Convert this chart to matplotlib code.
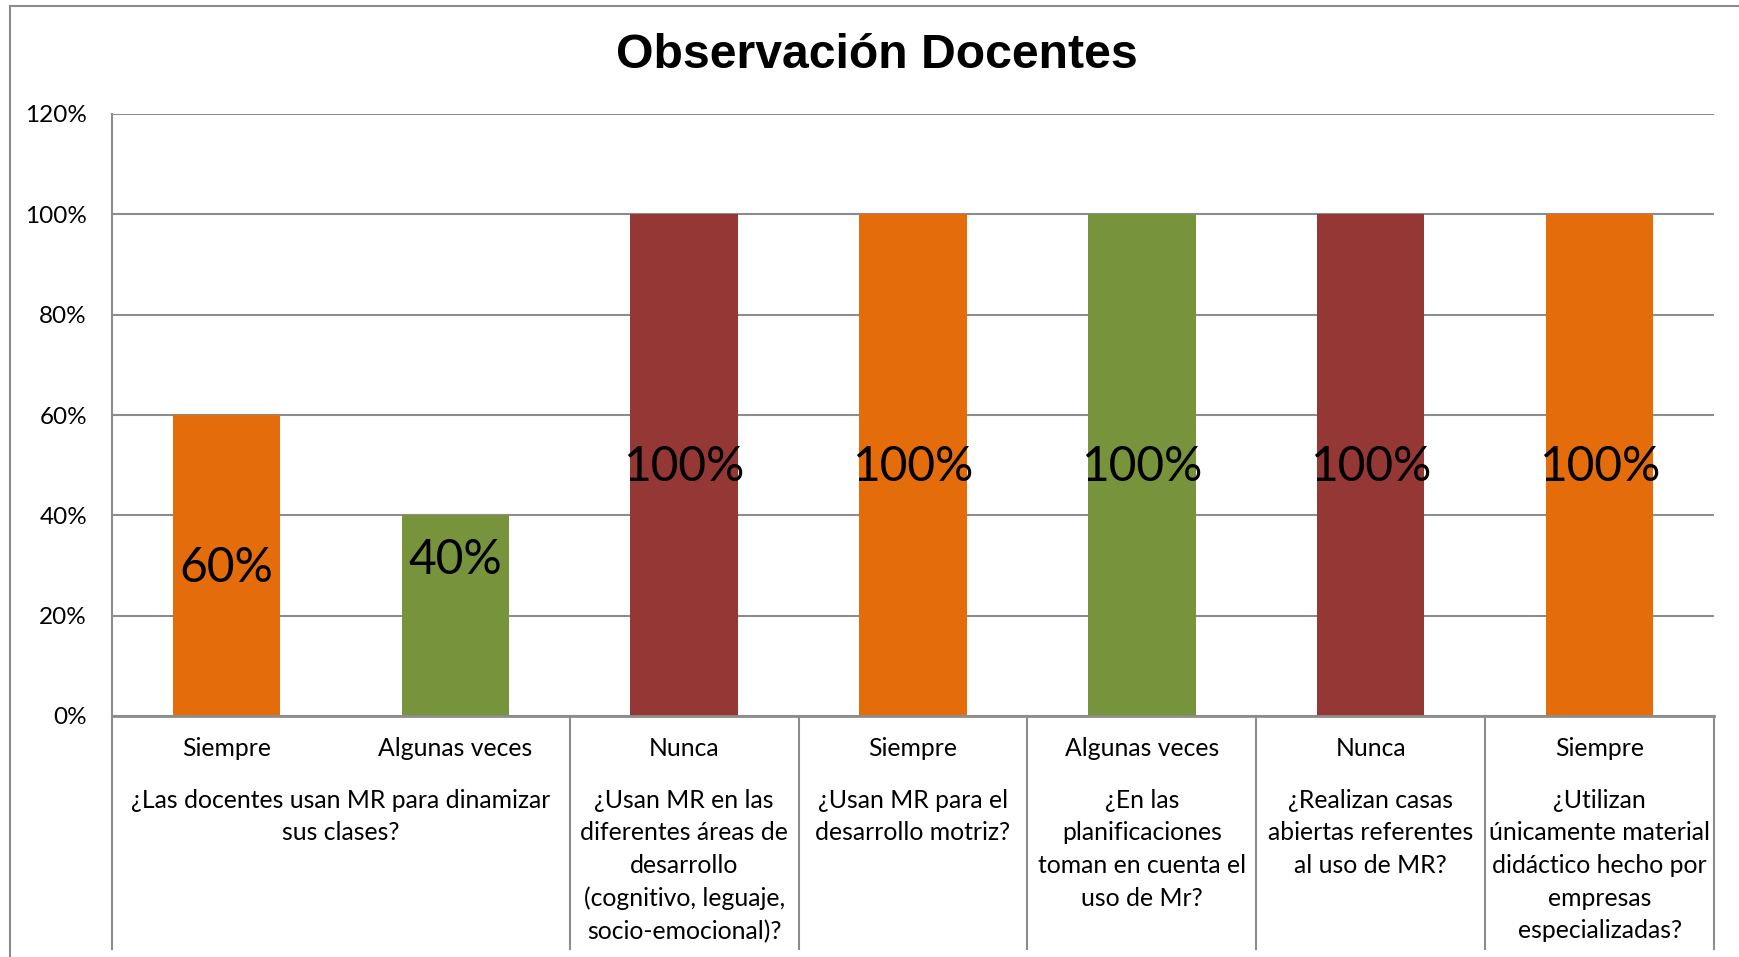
import matplotlib.pyplot as plt
from matplotlib.patches import Rectangle
import matplotlib.transforms as mtransforms

# Data
answers = ['Siempre', 'Algunas veces', 'Nunca', 'Siempre', 'Algunas veces', 'Nunca', 'Siempre']
values = [60, 40, 100, 100, 100, 100, 100]
bar_colors = ['#E46C0A', '#77933C', '#953735', '#E46C0A', '#77933C', '#953735', '#E46C0A']

# questions (outer category level) and how many answers each one spans
questions = [
    '¿Las docentes usan MR para dinamizar\nsus clases?',
    '¿Usan MR en las\ndiferentes áreas de\ndesarrollo\n(cognitivo, leguaje,\nsocio-emocional)?',
    '¿Usan MR para el\ndesarrollo motriz?',
    '¿En las\nplanificaciones\ntoman en cuenta el\nuso de Mr?',
    '¿Realizan casas\nabiertas referentes\nal uso de MR?',
    '¿Utilizan\núnicamente material\ndidáctico hecho por\nempresas\nespecializadas?',
]
spans = [2, 1, 1, 1, 1, 1]

yticks = [0, 20, 40, 60, 80, 100, 120]

GRID = '#8C8C8C'
FONT = 'Lato'

fig = plt.figure(figsize=(17.4, 9.57), dpi=100)
ax = fig.add_axes([112 / 1740, 1 - 716 / 957, (1714 - 112) / 1740, (716 - 114) / 957])

# chart area border (right/bottom run off the picture)
fig.patches.append(Rectangle((10 / 1740, -0.05), 1.1, 1 - 6 / 957 + 0.05,
                             transform=fig.transFigure, fill=False,
                             edgecolor=GRID, linewidth=1.5))

x = range(len(values))
bars = ax.bar(x, values, width=0.47, color=bar_colors, zorder=3)

# data labels sit roughly mid-bar; the two short bars share about the same height
label_y = [29.5, 31, 49.7, 49.7, 49.7, 49.7, 49.7]
for b, v, ly in zip(bars, values, label_y):
    ax.text(b.get_x() + b.get_width() / 2, ly, f'{v}%', ha='center', va='center',
            fontsize=34.5, family=FONT, color='black', zorder=4)

ax.set_xlim(-0.5, len(values) - 0.5)
ax.set_ylim(0, 120)
ax.set_yticks(yticks)
ax.set_yticklabels([f'{t}%' for t in yticks], family=FONT, fontsize=17.5)
ax.yaxis.grid(True, color=GRID, linewidth=1.5, zorder=0)
ax.tick_params(axis='y', length=0, pad=18)
ax.set_xticks([])
for s in ['top', 'right']:
    ax.spines[s].set_visible(False)
ax.spines['left'].set_color(GRID)
ax.spines['left'].set_linewidth(1.5)
ax.spines['bottom'].set_color(GRID)
ax.spines['bottom'].set_linewidth(2)
ax.spines['bottom'].set_zorder(5)

# multi-level category axis below the plot
trans = mtransforms.blended_transform_factory(ax.transData, ax.transAxes)
bottom = -(949 - 716) / (716 - 114)
for i, a in enumerate(answers):
    ax.text(i, -(749 - 716) / 602, a, transform=trans, ha='center', va='center',
            family=FONT, fontsize=17.8)

start = -0.5
ax.plot([start, start], [0, bottom], transform=trans, color=GRID, lw=1.5, clip_on=False)
for q, n in zip(questions, spans):
    end = start + n
    ax.text((start + end) / 2, -(789 - 716) / 602, q, transform=trans, ha='center', va='top',
            family=FONT, fontsize=17.8, linespacing=1.5)
    ax.plot([end, end], [0, bottom], transform=trans, color=GRID, lw=1.5, clip_on=False)
    start = end

fig.text(877 / 1740, 1 - 56 / 957, 'Observación Docentes', ha='center', va='center',
         fontsize=34.7, fontweight='bold', family='Liberation Sans')

fig.savefig('out.png', dpi=100)
